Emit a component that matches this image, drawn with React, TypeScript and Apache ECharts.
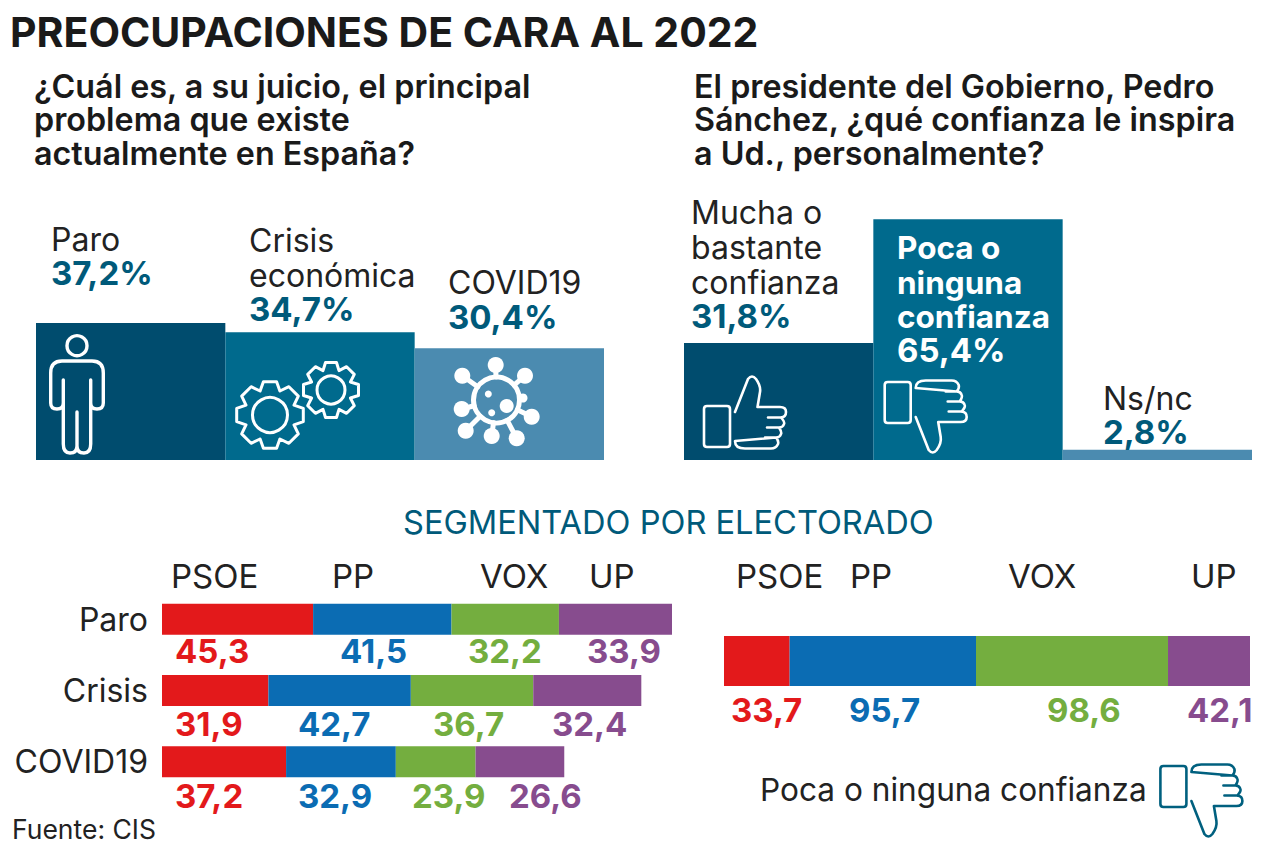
import React, { useEffect, useRef } from "react";
import * as echarts from "echarts";

const problemCats = ["Paro", "Crisis económica", "COVID19"];
const problemVals = [37.2, 34.7, 30.4];
const trustCats = ["Mucha o bastante confianza", "Poca o ninguna confianza", "Ns/nc"];
const trustVals = [31.8, 65.4, 2.8];
const parties = ["PSOE", "PP", "VOX", "UP"];
const segCats = ["Paro", "Crisis", "COVID19"];
const psoeVals = [45.3, 31.9, 37.2];
const ppVals = [41.5, 42.7, 32.9];
const voxVals = [32.2, 36.7, 23.9];
const upVals = [33.9, 32.4, 26.6];
const trustSeg = [33.7, 95.7, 98.6, 42.1];

const FONT = "Inter, Roboto, sans-serif";
const BLUES = ["#004c6e", "#006a8d", "#4b8bb0"];
const TEAL = "#005a7a";
const PARTY = ["#e3191b", "#0b6cb3", "#74ae3f", "#874c8e"];
const fmt = (v: number) => v.toFixed(1).replace(".", ",");

const person =
  "M63.3 380V444Q63.3 453 70 453Q77 453 77 446V412M77 446Q77 453 84 453Q90.7 453 90.7 444V380" +
  "M63.3 403Q63.3 409 57 409Q50.7 409 50.7 403V373Q50.7 361 62 361H92Q103.3 361 103.3 373V403Q103.3 409 97 409Q90.7 409 90.7 403";
const thumb =
  "M735 412L748 379Q752 374 756 379Q761 386 760 392L757.5 407H780Q786 407 786 412Q786 417 781 417.5H768" +
  "M781 417.5Q785 422 784 424Q783 427.5 779 427.5H767M779 427.5Q782 432 781 434Q780 437.5 776 437.5H765" +
  "M776 437.5Q779 441 778 444Q776 448.5 771 448.5H745Q735 448.5 735 441Z" +
  "M707 406H727Q730 406 730 409V444Q730 447 727 447H707Q704 447 704 444V409Q704 406 707 406Z";

function gearPath(cx: number, cy: number, rOut: number, rIn: number, teeth: number) {
  const pts: string[] = [];
  for (let i = 0; i < teeth; i++) {
    const a = (i * 2 * Math.PI) / teeth;
    const w = Math.PI / teeth;
    [[-w, rIn], [-w * 0.5, rOut], [w * 0.5, rOut], [w, rIn]].forEach(([da, r]) => {
      pts.push(`${(cx + r * Math.cos(a + da - Math.PI / 2)).toFixed(1)} ${(cy + r * Math.sin(a + da - Math.PI / 2)).toFixed(1)}`);
    });
  }
  return "M" + pts.join("L") + "Z";
}
echarts.graphic.registerShape("person", echarts.graphic.extendPath(person, {}));
echarts.graphic.registerShape("thumb", echarts.graphic.extendPath(thumb, {}));
echarts.graphic.registerShape("gearA", echarts.graphic.extendPath(gearPath(270, 415, 34, 26, 8), {}));
echarts.graphic.registerShape("gearB", echarts.graphic.extendPath(gearPath(331, 390, 28, 21, 8), {}));

const Z = 50;
const txt = (text: string, x: number, y: number, size: number, fill: string, weight = 400, align = "left") => ({
  type: "text",
  x,
  y,
  z: Z,
  silent: true,
  style: { text, fill, font: `${weight} ${size}px ${FONT}`, textAlign: align, textVerticalAlign: "middle" },
});

const virusBalls = [[495.7, 365], [525, 375.7], [531.7, 416.7], [516.7, 438.3], [491.7, 436], [465.7, 430.7], [461.7, 409], [462.3, 375.7]];
const virusCentre = [496.5, 400];

const segValXs = [[175, 340, 468, 587], [175, 298, 433, 552], [175, 298, 412, 509]];
const segValYs = [651, 724, 796];
const trustValXs = [731, 849, 1047, 1187];
const headXsL = [171, 332, 480, 589];
const headXsR = [736, 850, 1008, 1191];

const TITLE_SIZE = 41;
const SUB_SIZE = 32.3;
const BODY_SIZE = 32;
const SEG_SIZE = 32.6;
const HEAD_SIZE = 33;
const NUM_SIZE = 33;
const WHITE_SIZE = 31.5;
const CAPTION_SIZE = 31.6;

export default function App() {
  const ref = useRef<HTMLDivElement>(null);
  useEffect(() => {
    const chart = echarts.init(ref.current!, undefined, { renderer: "svg" });
    const stroke = (w: number, c = "#fff") => ({ fill: "none", stroke: c, lineWidth: w, lineJoin: "round", lineCap: "round" });
    const segRows = [psoeVals, ppVals, voxVals, upVals];
    const graphic: any[] = [
      txt("PREOCUPACIONES DE CARA AL 2022", 10, 32, TITLE_SIZE, "#1a1a1a", 700),
      txt("¿Cuál es, a su juicio, el principal", 34, 86, SUB_SIZE, "#1a1a1a", 600),
      txt("problema que existe", 34, 119, SUB_SIZE, "#1a1a1a", 600),
      txt("actualmente en España?", 34, 153, SUB_SIZE, "#1a1a1a", 600),
      txt("El presidente del Gobierno, Pedro", 694, 86, SUB_SIZE, "#1a1a1a", 600),
      txt("Sánchez, ¿qué confianza le inspira", 694, 119, SUB_SIZE, "#1a1a1a", 600),
      txt("a Ud., personalmente?", 694, 153, SUB_SIZE, "#1a1a1a", 600),
      txt("Paro", 51, 239, BODY_SIZE, "#222"),
      txt(fmt(problemVals[0]) + "%", 51, 273, NUM_SIZE, TEAL, 700),
      txt("Crisis", 249, 240, BODY_SIZE, "#222"),
      txt("económica", 249, 275, BODY_SIZE, "#222"),
      txt(fmt(problemVals[1]) + "%", 249, 309, NUM_SIZE, TEAL, 700),
      txt("COVID19", 448, 282, BODY_SIZE, "#222"),
      txt(fmt(problemVals[2]) + "%", 448, 317, NUM_SIZE, TEAL, 700),
      txt("Mucha o", 691, 212, BODY_SIZE, "#222"),
      txt("bastante", 691, 247, BODY_SIZE, "#222"),
      txt("confianza", 691, 282, BODY_SIZE, "#222"),
      txt(fmt(trustVals[0]) + "%", 691, 316, NUM_SIZE, TEAL, 700),
      txt("Poca o", 897, 247, WHITE_SIZE, "#fff", 700),
      txt("ninguna", 897, 282, WHITE_SIZE, "#fff", 700),
      txt("confianza", 897, 316, WHITE_SIZE, "#fff", 700),
      txt(fmt(trustVals[1]) + "%", 897, 350, NUM_SIZE, "#fff", 700),
      txt("Ns/nc", 1103, 398, BODY_SIZE, "#222"),
      txt(fmt(trustVals[2]) + "%", 1103, 432, NUM_SIZE, TEAL, 700),
      txt("SEGMENTADO POR ELECTORADO", 403, 522, SEG_SIZE, TEAL),
      txt("Poca o ninguna confianza", 760, 789, CAPTION_SIZE, "#222"),
      txt("Fuente: CIS", 12, 829, 26.5, "#222"),
      { type: "person", z: Z, x: 0, y: 0, silent: true, style: stroke(3.4) },
      { type: "circle", z: Z, silent: true, shape: { cx: 77, cy: 345.7, r: 10 }, style: stroke(3.4) },
      { type: "gearA", z: Z, x: 0, y: 0, silent: true, style: stroke(3) },
      { type: "circle", z: Z, silent: true, shape: { cx: 270, cy: 415, r: 17.5 }, style: stroke(3) },
      { type: "gearB", z: Z, x: 0, y: 0, silent: true, style: stroke(3) },
      { type: "circle", z: Z, silent: true, shape: { cx: 331, cy: 390, r: 14 }, style: stroke(3) },
      { type: "circle", z: Z, silent: true, shape: { cx: virusCentre[0], cy: virusCentre[1], r: 23 }, style: stroke(5) },
      ...virusBalls.flatMap(([x, y]) => {
        const dx = x - virusCentre[0], dy = y - virusCentre[1], d = Math.hypot(dx, dy);
        return [
          { type: "line", z: Z, silent: true, shape: { x1: virusCentre[0] + (dx * 23) / d, y1: virusCentre[1] + (dy * 23) / d, x2: x, y2: y }, style: stroke(5) },
          { type: "circle", z: Z, silent: true, shape: { cx: x, cy: y, r: 8 }, style: { fill: "#fff" } },
        ];
      }),
      { type: "circle", z: Z, silent: true, shape: { cx: 523, cy: 398, r: 4.5 }, style: { fill: "#fff" } },
      { type: "circle", z: Z, silent: true, shape: { cx: 488.3, cy: 394, r: 3.5 }, style: { fill: "#fff" } },
      { type: "circle", z: Z, silent: true, shape: { cx: 506.7, cy: 406, r: 7 }, style: { fill: "#fff" } },
      { type: "circle", z: Z, silent: true, shape: { cx: 491.7, cy: 412.7, r: 3.5 }, style: { fill: "#fff" } },
      { type: "thumb", z: Z, x: 0, y: 0, silent: true, style: stroke(2.6) },
      { type: "thumb", z: Z, x: 180.7, y: 829, scaleY: -1, silent: true, style: stroke(2.6) },
      { type: "thumb", z: Z, x: 456.4, y: 1213, scaleY: -1, silent: true, style: stroke(2.6, "#00607f") },
    ];
    parties.forEach((p, i) => {
      graphic.push(txt(p, headXsL[i], 576, HEAD_SIZE, "#222"));
      graphic.push(txt(p, headXsR[i], 576, HEAD_SIZE, "#222"));
      segValYs.forEach((y, r) => graphic.push(txt(fmt(segRows[i][r]), segValXs[r][i], y, NUM_SIZE, PARTY[i], 700)));
      graphic.push(txt(fmt(trustSeg[i]), trustValXs[i], 710, NUM_SIZE, PARTY[i], 700));
    });

    const hiddenVal = (gridIndex: number, max: number) => ({ type: "value", gridIndex, min: 0, max, show: false });
    const hiddenCat = (gridIndex: number, data: string[]) => ({ type: "category", gridIndex, data, show: false });
    const colored = (vals: number[]) => vals.map((value, i) => ({ value, itemStyle: { color: BLUES[i] } }));

    chart.setOption({
      animation: false,
      backgroundColor: "#fff",
      graphic: { elements: graphic },
      grid: [
        { left: 36, top: 92, width: 568, height: 368 },
        { left: 684, top: 92, width: 568, height: 368 },
        { left: 162, top: 583.5, width: 510, height: 214 },
        { left: 724, top: 636, width: 526, height: 50 },
      ],
      xAxis: [
        hiddenCat(0, problemCats),
        hiddenCat(1, trustCats),
        hiddenVal(2, 152.9),
        hiddenVal(3, 270.1),
      ],
      yAxis: [
        hiddenVal(0, 100),
        hiddenVal(1, 100),
        {
          type: "category",
          gridIndex: 2,
          data: segCats,
          inverse: true,
          axisLine: { show: false },
          axisTick: { show: false },
          axisLabel: { fontFamily: FONT, fontSize: BODY_SIZE, color: "#222", margin: 14, padding: [4, 0, 0, 0] },
        },
        hiddenCat(3, ["Confianza"]),
      ],
      series: [
        { type: "bar", xAxisIndex: 0, yAxisIndex: 0, barWidth: "100%", data: colored(problemVals) },
        { type: "bar", xAxisIndex: 1, yAxisIndex: 1, barWidth: "100%", data: colored(trustVals) },
        ...parties.map((name, i) => ({
          type: "bar", name, stack: "seg", xAxisIndex: 2, yAxisIndex: 2, barWidth: 31,
          itemStyle: { color: PARTY[i] }, data: segRows[i],
        })),
        ...parties.map((name, i) => ({
          type: "bar", name, stack: "trust", xAxisIndex: 3, yAxisIndex: 3, barWidth: 50,
          itemStyle: { color: PARTY[i] }, data: [trustSeg[i]],
        })),
      ],
    });
    return () => chart.dispose();
  }, []);
  return <div ref={ref} style={{ position: "fixed", left: 0, top: 0, width: 1280, height: 853 }} />;
}
